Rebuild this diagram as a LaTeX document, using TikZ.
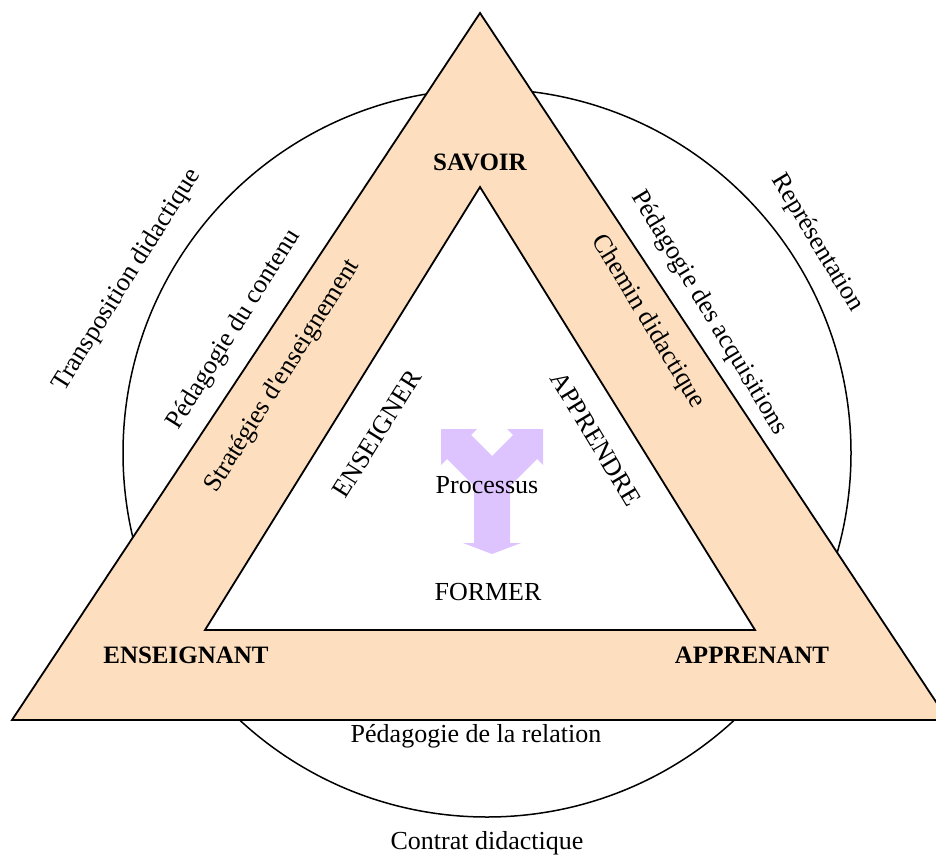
\documentclass[tikz,border=0pt]{standalone}
\usepackage{fontspec}
\setmainfont{Liberation Serif}[Ligatures=TeXOff]
\definecolor{peach}{RGB}{253,223,192}
\definecolor{lavender}{RGB}{222,196,255}
\begin{document}
\begin{tikzpicture}[x=1pt,y=-1pt,
  lbl/.style={inner sep=0pt,font=\fontsize{26}{30}\selectfont},
  blbl/.style={inner sep=0pt,font=\fontsize{25}{30}\selectfont\bfseries},
  edge/.style={draw=black,line width=1.8pt,line join=miter}]
\useasboundingbox (0,0) rectangle (936,856);
% circle
\coordinate (cc) at (487,453);
\draw[line width=1.5pt] (cc) circle[radius=364];
% triangles
\coordinate (oA) at (480,13);
\coordinate (oB) at (12,720);
\coordinate (oC) at (948,720);
\coordinate (iA) at (480,187);
\coordinate (iB) at (205,630);
\coordinate (iC) at (755,630);
\fill[peach] (oA) -- (oB) -- (oC) -- cycle;
\fill[white] (iA) -- (iB) -- (iC) -- cycle;
\draw[edge] (oA) -- (oB) -- (oC) -- cycle;
\draw[edge] (iA) -- (iB) -- (iC) -- cycle;
% Y arrow
\fill[lavender] (441,429) -- (477,429) -- (471,435) -- (492,456) -- (513,435) -- (507,429)
  -- (543,429) -- (543,465) -- (537,459) -- (510,486) -- (510,543) -- (521,543)
  -- (492,554) -- (463,543) -- (474,543) -- (474,486) -- (447,459) -- (441,465) -- cycle;
% labels
\node[blbl] (savoir) at (480,162) {SAVOIR};
\node[blbl] (ens) at (186,655) {ENSEIGNANT};
\node[blbl] (app) at (752,655) {APPRENANT};
\node[lbl] (proc) at (487,485) {Processus};
\node[lbl] (former) at (488,592) {FORMER};
\node[lbl] (rel) at (476,736) {Pédagogie de la relation};
\node[lbl] (contrat) at (487,843) {Contrat didactique};
\node[lbl,rotate=58] (transp) at (127,280) {Transposition didactique};
\node[lbl,rotate=58] (pcont) at (234,330) {Pédagogie du contenu};
\node[lbl,rotate=58] (strat) at (283,376) {Stratégies d'enseignement};
\node[lbl,rotate=58] (enseigner) at (377,434) {ENSEIGNER};
\node[lbl,rotate=-59] (apprendre) at (596,439) {APPRENDRE};
\node[lbl,rotate=-59] (chemin) at (648,322) {Chemin didactique};
\node[lbl,rotate=-59] (pacq) at (709,313) {Pédagogie des acquisitions};
\node[lbl,rotate=-59] (repr) at (817,243) {Représentation};
\end{tikzpicture}
\end{document}
